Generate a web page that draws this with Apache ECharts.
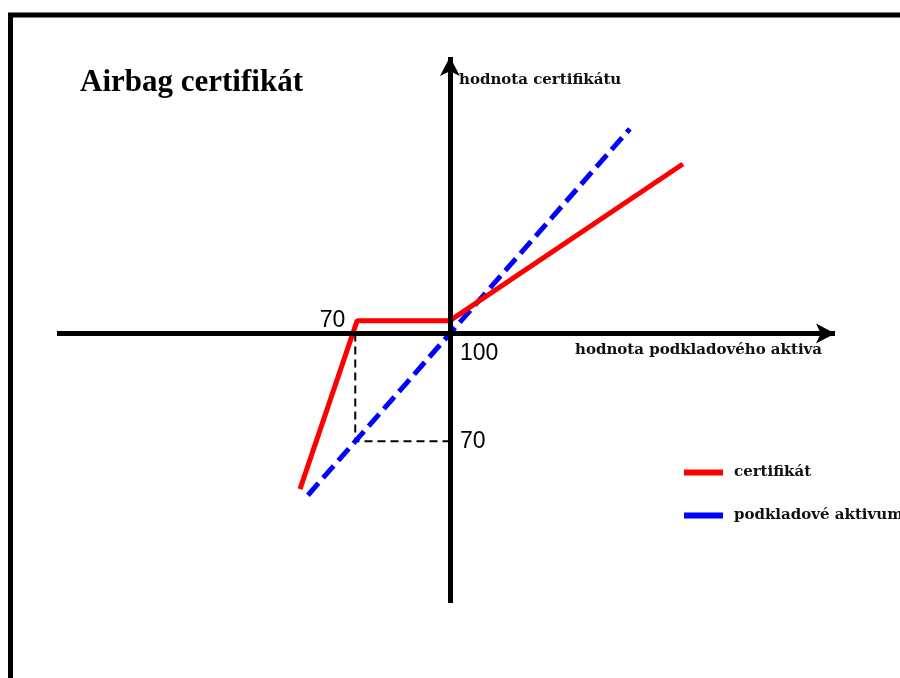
<!DOCTYPE html>
<html>
<head>
<meta charset="utf-8">
<title>Airbag certifikát</title>
<script src="https://cdn.jsdelivr.net/npm/echarts@6/dist/echarts.min.js"></script>
<style>
  html, body { margin: 0; padding: 0; background: #fff; }
  #chart { width: 900px; height: 678px; }
</style>
</head>
<body>
<div id="chart"></div>
<script>
// hodnoty (podkladové aktivum -> certifikát)
const certX = [52.5, 70.6, 100, 173.8];
const certY = [56.7, 103.6, 103.6, 147.2];
const assetX = [55, 157];
const assetY = [55, 157];
// pomocné čáry k bodu 70
const guideX = [70, 70, 100];
const guideY = [100, 70, 70];
// popisky os
const tickX = [70, 100, 100];
const tickY = [100, 100, 70];
const tickLabels = ['70', '100', '70'];

const xMin = -24.5, xMax = 222;
const yMin = 25, yMax = 177;
const origin = [100, 100];   // průsečík os

const serif = 'Liberation Serif';
const small = 'DejaVu Serif';   // drobné popisky jsou širší
const sans = 'Liberation Sans';

const chart = echarts.init(document.getElementById('chart'));

const pairs = (xs, ys) => xs.map((x, i) => [x, ys[i]]);

chart.setOption({
  animation: false,
  backgroundColor: '#fff',
  grid: { left: 57, right: 65, top: 57, bottom: 75 },
  xAxis: {
    type: 'value', min: xMin, max: xMax,
    axisLine: { show: false }, axisTick: { show: false },
    axisLabel: { show: false }, splitLine: { show: false }
  },
  yAxis: {
    type: 'value', min: yMin, max: yMax,
    axisLine: { show: false }, axisTick: { show: false },
    axisLabel: { show: false }, splitLine: { show: false }
  },
  legend: {
    orient: 'vertical',
    left: 679, top: 460,
    itemWidth: 39, itemHeight: 6,
    itemGap: 28,
    icon: 'rect',
    data: ['certifikát', 'podkladové aktivum'],
    textStyle: { fontFamily: small, fontWeight: 'bold', fontSize: 15, color: '#111', padding: [0, 0, 0, 6] }
  },
  graphic: [
    // rámeček
    { type: 'polyline', silent: true,
      shape: { points: [[10.5, 678], [10.5, 15], [900, 15]] },
      style: { stroke: '#000', lineWidth: 5, fill: null } },
    { type: 'text', left: 80, top: 67,
      style: { text: 'Airbag certifikát', fontFamily: serif, fontWeight: 'bold', fontSize: 31, fill: '#000' } },
    { type: 'text', left: 459, top: 73,
      style: { text: 'hodnota certifikátu', fontFamily: small, fontWeight: 'bold', fontSize: 15, fill: '#111' } },
    { type: 'text', left: 575, top: 343,
      style: { text: 'hodnota podkladového aktiva', fontFamily: small, fontWeight: 'bold', fontSize: 15, fill: '#111' } }
  ],
  series: [
    {
      name: 'osy', type: 'line', data: [], silent: true,
      markLine: {
        silent: true,
        symbol: ['none', 'arrow'],
        symbolSize: [15, 19],
        label: { show: false },
        lineStyle: { color: '#000', width: 5, type: 'solid' },
        emphasis: { disabled: true },
        data: [
          [{ coord: [xMin, origin[1]] }, { coord: [xMax, origin[1]] }],
          [{ coord: [origin[0], yMin] }, { coord: [origin[0], yMax] }]
        ]
      }
    },
    {
      name: 'pomocné', type: 'line', data: pairs(guideX, guideY),
      symbol: 'none', silent: true,
      lineStyle: { color: '#000', width: 2, type: [8, 5] },
      markPoint: {
        symbol: 'circle', symbolSize: 0, silent: true,
        label: { show: true, fontFamily: sans, fontSize: 23, color: '#000' },
        data: tickLabels.map((t, i) => ({
          coord: [tickX[i], tickY[i]],
          value: t,
          label: i === 0
            ? { formatter: t, align: 'right', verticalAlign: 'middle', offset: [-10, -13] }
            : { formatter: t, align: 'left', verticalAlign: 'middle', offset: [10, i === 1 ? 20 : 0] }
        }))
      }
    },
    {
      name: 'podkladové aktivum', type: 'line', data: pairs(assetX, assetY),
      symbol: 'none', color: '#0000ff',
      lineStyle: { color: '#0000ff', width: 5, type: [16, 7] }
    },
    {
      name: 'certifikát', type: 'line', data: pairs(certX, certY),
      symbol: 'none', color: '#ff0000',
      lineStyle: { color: '#ff0000', width: 5 }
    }
  ]
});
</script>
</body>
</html>
